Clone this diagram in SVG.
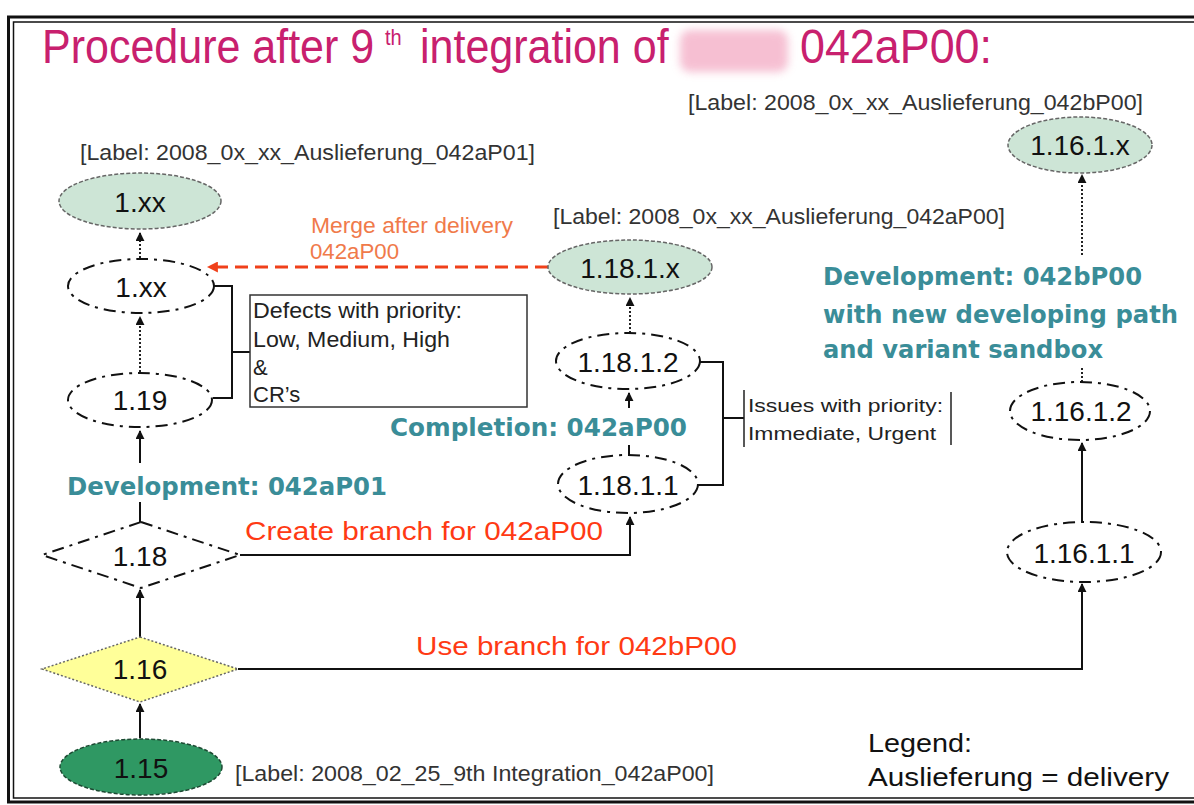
<svg xmlns="http://www.w3.org/2000/svg" width="1194" height="805" viewBox="0 0 1194 805">
<style>
.lbl{font-family:"Liberation Sans",Arial,sans-serif;font-size:22px;fill:#333}
.num{font-family:"Liberation Sans",Arial,sans-serif;font-size:28px;fill:#111;text-anchor:middle}
.teal{font-family:"DejaVu Sans",Verdana,sans-serif;font-weight:bold;font-size:24.5px;fill:#3a8d98}
.red{font-family:"Liberation Sans",Arial,sans-serif;font-size:26px;fill:#ff3a14}
.org{font-family:"Liberation Sans",Arial,sans-serif;font-size:22px;fill:#f07a4a}
.txt{font-family:"Liberation Sans",Arial,sans-serif;font-size:22px;fill:#222}
.sm{font-size:19px}
.leg{font-family:"Liberation Sans",Arial,sans-serif;font-size:26px;fill:#111}
.title{font-family:"Liberation Sans",Arial,sans-serif;font-size:43px;fill:#c8206e}
.sup{font-family:"Liberation Sans",Arial,sans-serif;font-size:20px;fill:#c8206e}
.dd{fill:#fff;stroke:#111;stroke-width:2;stroke-dasharray:12 6 3 6}
.fg{fill:#cde5d6;stroke:#666;stroke-width:1.5;stroke-dasharray:4 2}
.c{fill:none;stroke:#111;stroke-width:2}
.dot{fill:none;stroke:#222;stroke-width:2;stroke-dasharray:2 2}
</style>
<defs>
<marker id="ah" viewBox="0 0 10 10" refX="9" refY="5" markerWidth="9" markerHeight="9" markerUnits="userSpaceOnUse" orient="auto"><path d="M0,0 L10,5 L0,10 z" fill="#111"/></marker>
<marker id="aho" viewBox="0 0 10 10" refX="9" refY="5" markerWidth="11" markerHeight="11" markerUnits="userSpaceOnUse" orient="auto"><path d="M0,0 L10,5 L0,10 z" fill="#f0401a"/></marker>
<filter id="blur" x="-20%" y="-30%" width="140%" height="160%"><feGaussianBlur stdDeviation="4"/></filter>
</defs>
<rect x="0" y="0" width="1194" height="805" fill="#fff"/>
<g id="frame">
<rect x="8.5" y="17" width="1200" height="785" fill="none" stroke="#111" stroke-width="3"/>
<rect x="13.5" y="22" width="1200" height="776" fill="none" stroke="#111" stroke-width="1.5"/>
</g>
<g id="title">
<rect x="680" y="30" width="108" height="42" rx="10" fill="#f4b0c8" opacity="0.8" filter="url(#blur)"/>
<g transform="translate(0,63) scale(1,1.13) translate(0,-63)">
<text class="title" x="42" y="63">Procedure after 9</text>
<text class="sup" x="385" y="47">th</text>
<text class="title" x="420" y="63">integration of</text>
<text class="title" x="800" y="63" textLength="192" lengthAdjust="spacingAndGlyphs">042aP00:</text>
</g>
</g>
<g id="connectors">
<path class="dot" d="M140 258 V233" marker-end="url(#ah)"/>
<path class="dot" d="M140 372 V317" marker-end="url(#ah)"/>
<path class="c" d="M140 522 V502 M140 463 V431" marker-end="url(#ah)"/>
<path class="c" d="M140 637 V590" marker-end="url(#ah)"/>
<path class="c" d="M140 738 V704" marker-end="url(#ah)"/>
<path class="c" d="M240 555 H630 V517" marker-end="url(#ah)"/>
<path class="c" d="M238 669 H1082 V584" marker-end="url(#ah)"/>
<path class="c" d="M629 455 V445 M629 408 V393" marker-end="url(#ah)"/>
<path class="dot" d="M630 333 V298" marker-end="url(#ah)"/>
<path class="c" d="M1082 522 V443" marker-end="url(#ah)"/>
<path class="dot" d="M1082 382 V368 M1082 255 V175" marker-end="url(#ah)"/>
<path d="M548 267 H208" fill="none" stroke="#f0401a" stroke-width="3" stroke-dasharray="13 7" marker-end="url(#aho)"/>
<path class="c" d="M213 286 H232 V398 H213 M232 352 H250"/>
<path class="c" d="M700 362 H723 V485 H698 M723 418 H744"/>
</g>
<g id="label-042bP00"><text class="lbl" x="688" y="110" textLength="455" lengthAdjust="spacingAndGlyphs">[Label: 2008_0x_xx_Auslieferung_042bP00]</text></g>
<g id="label-042aP01"><text class="lbl" x="80" y="160" textLength="455" lengthAdjust="spacingAndGlyphs">[Label: 2008_0x_xx_Auslieferung_042aP01]</text></g>
<g id="label-042aP00"><text class="lbl" x="553" y="224" textLength="452" lengthAdjust="spacingAndGlyphs">[Label: 2008_0x_xx_Auslieferung_042aP00]</text></g>
<g id="label-integration"><text class="lbl" x="235" y="781" textLength="479" lengthAdjust="spacingAndGlyphs">[Label: 2008_02_25_9th Integration_042aP00]</text></g>
<g id="n-1xx-top"><ellipse class="fg" cx="140" cy="201" rx="81" ry="28"/><text class="num" x="140" y="212">1.xx</text></g>
<g id="n-1xx"><ellipse class="dd" cx="141" cy="286" rx="73" ry="27"/><text class="num" x="141" y="297">1.xx</text></g>
<g id="n-119"><ellipse class="dd" cx="140" cy="400" rx="72" ry="27"/><text class="num" x="140" y="410">1.19</text></g>
<g id="n-118"><path class="dd" d="M141 522 L240 555 L141 588 L42 555 Z"/><text class="num" x="140" y="566">1.18</text></g>
<g id="n-116"><path d="M140 637 L238 669 L140 702 L42 669 Z" fill="#ffff99" stroke="#666" stroke-width="1.5" stroke-dasharray="2 2"/><text class="num" x="140" y="679">1.16</text></g>
<g id="n-115"><ellipse cx="141" cy="767" rx="81" ry="28" fill="#2f9863" stroke="#1d4a33" stroke-width="1.5" stroke-dasharray="4 2"/><text class="num" x="141" y="778">1.15</text></g>
<g id="n-1181x"><ellipse class="fg" cx="630" cy="267" rx="82" ry="27"/><text class="num" x="630" y="278">1.18.1.x</text></g>
<g id="n-11812"><ellipse class="dd" cx="628" cy="361" rx="72" ry="28"/><text class="num" x="628" y="372">1.18.1.2</text></g>
<g id="n-11811"><ellipse class="dd" cx="628" cy="484" rx="70" ry="29"/><text class="num" x="628" y="495">1.18.1.1</text></g>
<g id="n-1161x"><ellipse class="fg" cx="1080" cy="145" rx="72" ry="28"/><text class="num" x="1080" y="155">1.16.1.x</text></g>
<g id="n-11612"><ellipse class="dd" cx="1080" cy="411" rx="70" ry="29"/><text class="num" x="1081" y="421">1.16.1.2</text></g>
<g id="n-11611"><ellipse class="dd" cx="1084" cy="552" rx="77" ry="30"/><text class="num" x="1084" y="563">1.16.1.1</text></g>
<g id="merge-label">
<text class="org" x="311" y="233" textLength="202" lengthAdjust="spacingAndGlyphs">Merge after delivery</text>
<text class="org" x="310" y="259" textLength="89" lengthAdjust="spacingAndGlyphs">042aP00</text>
</g>
<g id="defects-box">
<rect x="250" y="295" width="277" height="112" fill="#fff" stroke="#333" stroke-width="1.5"/>
<text class="txt" x="253" y="318" textLength="209" lengthAdjust="spacingAndGlyphs">Defects with priority:</text>
<text class="txt" x="253" y="347" textLength="197" lengthAdjust="spacingAndGlyphs">Low, Medium, High</text>
<text class="txt" x="253" y="375">&amp;</text>
<text class="txt" x="253" y="402">CR’s</text>
</g>
<g id="issues-box">
<path d="M744 390 V447 M951 392 V445" fill="none" stroke="#222" stroke-width="1.5"/>
<text class="txt sm" x="748" y="412" textLength="195" lengthAdjust="spacingAndGlyphs">Issues with priority:</text>
<text class="txt sm" x="748" y="440" textLength="188" lengthAdjust="spacingAndGlyphs">Immediate, Urgent</text>
</g>
<g id="completion"><text class="teal" x="390" y="436" textLength="297" lengthAdjust="spacingAndGlyphs">Completion: 042aP00</text></g>
<g id="dev-042aP01"><text class="teal" x="67" y="495" textLength="320" lengthAdjust="spacingAndGlyphs">Development: 042aP01</text></g>
<g id="dev-042bP00">
<text class="teal" x="823" y="285" textLength="319" lengthAdjust="spacingAndGlyphs">Development: 042bP00</text>
<text class="teal" x="823" y="323" textLength="355" lengthAdjust="spacingAndGlyphs">with new developing path</text>
<text class="teal" x="823" y="358" textLength="280" lengthAdjust="spacingAndGlyphs">and variant sandbox</text>
</g>
<g id="create-branch"><text class="red" x="245" y="540" textLength="358" lengthAdjust="spacingAndGlyphs">Create branch for 042aP00</text></g>
<g id="use-branch"><text class="red" x="416" y="655" textLength="321" lengthAdjust="spacingAndGlyphs">Use branch for 042bP00</text></g>
<g id="legend">
<text class="leg" x="868" y="752" textLength="104" lengthAdjust="spacingAndGlyphs">Legend:</text>
<text class="leg" x="868" y="786" textLength="301" lengthAdjust="spacingAndGlyphs">Auslieferung = delivery</text>
</g>
</svg>
